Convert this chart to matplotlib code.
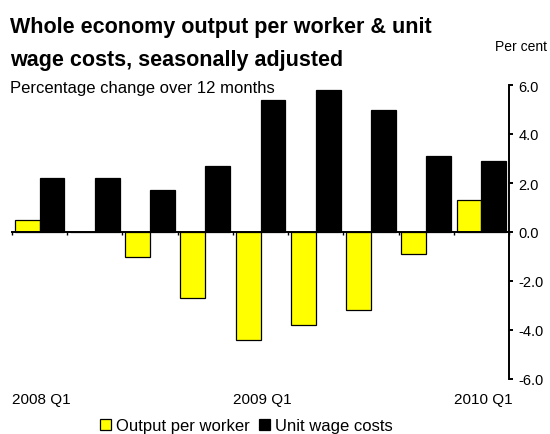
import matplotlib
matplotlib.use('Agg')
import matplotlib.pyplot as plt
import numpy as np

plt.rcParams['font.family'] = ['Liberation Sans', 'DejaVu Sans']
plt.rcParams['axes.unicode_minus'] = False

quarters = ['2008 Q1', '2008 Q2', '2008 Q3', '2008 Q4', '2009 Q1',
            '2009 Q2', '2009 Q3', '2009 Q4', '2010 Q1']
output_per_worker = [0.5, 0.0, -1.0, -2.7, -4.4, -3.8, -3.2, -0.9, 1.3]
unit_wage_costs = [2.2, 2.2, 1.7, 2.7, 5.4, 5.8, 5.0, 3.1, 2.9]
shown_labels = ['2008 Q1', '2009 Q1', '2010 Q1']

fig = plt.figure(figsize=(5.5, 4.35), dpi=100)
ax = fig.add_axes([12 / 550, 55 / 435, 497 / 550, 294 / 435])

x = np.arange(len(quarters))
w = 0.45
ax.bar(x - w / 2, output_per_worker, w, color='#FFFF00', edgecolor='black',
       linewidth=0.9, label='Output per worker', zorder=2)
ax.bar(x + w / 2, unit_wage_costs, w, color='black', edgecolor='black',
       linewidth=0.9, label='Unit wage costs', zorder=2)

ax.set_xlim(-0.5, len(quarters) - 0.5)
ax.set_ylim(-6, 6)

# axes: zero line on bottom, scale on the right
for s in ['left', 'top']:
    ax.spines[s].set_visible(False)
ax.spines['bottom'].set_position(('data', 0))
ax.spines['bottom'].set_linewidth(1.4)
ax.spines['right'].set_linewidth(1.4)
ax.spines['bottom'].set_zorder(3)

ax.set_xticks(np.arange(len(quarters) + 1) - 0.5)
ax.set_xticklabels([])
ax.tick_params(axis='x', direction='out', length=2.5, width=1)

ax.yaxis.tick_right()
ax.set_yticks(np.arange(-6, 7, 2))
ax.set_yticklabels([f'{v:.1f}' for v in np.arange(-6, 7, 2)])
ax.tick_params(axis='y', direction='out', length=3, width=1.4, pad=4,
               labelsize=10.5)

# quarter labels under the plot, left aligned to their category
for lab in shown_labels:
    i = quarters.index(lab)
    ax.text(i - 0.5, -0.068, lab, transform=ax.get_xaxis_transform(),
            ha='left', va='center', fontsize=11)

fig.text(10 / 550, 1 - 33 / 435, 'Whole economy output per worker & unit',
         fontsize=15.5, fontweight='bold', va='baseline')
fig.text(10 / 550, 1 - 66 / 435, 'wage costs, seasonally adjusted',
         fontsize=15.5, fontweight='bold', va='baseline')
fig.text(10 / 550, 1 - 93 / 435, 'Percentage change over 12 months',
         fontsize=12, va='baseline')
fig.text(495 / 550, 1 - 51 / 435, 'Per cent', fontsize=10, va='baseline')

ax.legend(loc='center', bbox_to_anchor=(246 / 550, 1 - 427 / 435),
          bbox_transform=fig.transFigure, ncol=2, frameon=False,
          fontsize=12, handlelength=0.66, handleheight=0.66,
          handletextpad=0.3, columnspacing=0.55, borderpad=0)

fig.savefig('out.png', dpi=100)
